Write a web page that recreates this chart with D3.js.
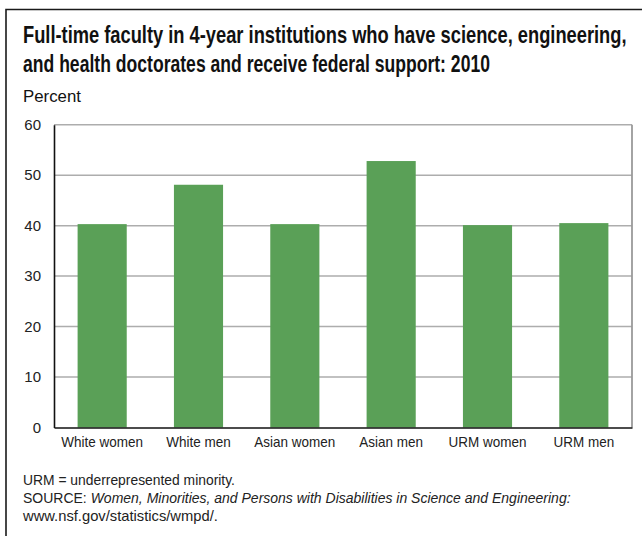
<!DOCTYPE html>
<html>
<head>
<meta charset="utf-8">
<script src="https://cdn.jsdelivr.net/npm/d3@7"></script>
<style>
  body { margin: 0; background: #fff; }
  svg { display: block; font-family: "Liberation Sans", Arial, sans-serif; }
</style>
</head>
<body>
<div id="chart"></div>
<script>
// Data
const categories = ["White women", "White men", "Asian women", "Asian men", "URM women", "URM men"];
const values = [40.3, 48.1, 40.3, 52.8, 40.1, 40.5];
const yTicks = [0, 10, 20, 30, 40, 50, 60];

const titleLines = [
    "Full-time faculty in 4-year institutions who have science, engineering,",
    "and health doctorates and receive federal support: 2010"
];

const width = 642;
const height = 536;
const plot = { left: 54, right: 632, top: 124.7, bottom: 427.5 };

const svg = d3.select("#chart")
    .append("svg")
    .attr("width", width)
    .attr("height", height);

// squeeze a left-anchored text horizontally so it spans the given width
function fitText(sel, x, y, target) {
    const len = sel.node().getComputedTextLength();
    const s = Math.min(1, target / len);
    sel.attr("x", 0).attr("y", 0)
        .attr("transform", `translate(${x},${y}) scale(${s},1)`);
}

// Outer frame (open at right and bottom, as in the picture)
svg.append("path")
    .attr("d", `M6,${height + 5}V9.5H${width + 5}`)
    .attr("fill", "none")
    .attr("stroke", "#1a1a1a")
    .attr("stroke-width", 1.6);

// Title
const titleWidths = [604, 467];
titleLines.forEach((line, i) => {
    const t = svg.append("text")
        .attr("font-size", 23)
        .attr("font-weight", "bold")
        .attr("fill", "#111")
        .text(line);
    fitText(t, 23, 43 + i * 29, titleWidths[i]);
});

const pct = svg.append("text")
    .attr("font-size", 17)
    .attr("fill", "#111")
    .text("Percent");
fitText(pct, 23, 102, 58);

// Scales
const x = d3.scaleBand()
    .domain(categories)
    .range([plot.left, plot.right])
    .paddingInner(0.49)
    .paddingOuter(0.245);

const y = d3.scaleLinear()
    .domain([0, 60])
    .range([plot.bottom, plot.top]);

// Gridlines
svg.append("g")
    .selectAll("line")
    .data(yTicks.filter(t => t > 0))
    .enter()
    .append("line")
    .attr("x1", plot.left)
    .attr("x2", plot.right)
    .attr("y1", d => y(d))
    .attr("y2", d => y(d))
    .attr("stroke", "#adadad")
    .attr("stroke-width", 1.5);

// Right border of plot
svg.append("line")
    .attr("x1", plot.right)
    .attr("x2", plot.right)
    .attr("y1", y(60))
    .attr("y2", y(0))
    .attr("stroke", "#9a9a9a")
    .attr("stroke-width", 1.8);

// Bars
svg.append("g")
    .selectAll("rect")
    .data(values)
    .enter()
    .append("rect")
    .attr("x", (d, i) => x(categories[i]))
    .attr("y", d => y(d))
    .attr("width", x.bandwidth())
    .attr("height", d => y(0) - y(d))
    .attr("fill", "#5aa057");

// Y axis
const yAxis = svg.append("g")
    .attr("transform", `translate(${plot.left},0)`)
    .call(d3.axisLeft(y).tickValues(yTicks).tickSize(0).tickPadding(13));
yAxis.select(".domain").attr("stroke", "#111").attr("stroke-width", 1.6);
yAxis.selectAll("text")
    .attr("font-family", "'Liberation Sans', Arial, sans-serif")
    .attr("font-size", 15)
    .attr("fill", "#222");

// X axis
const xAxis = svg.append("g")
    .attr("transform", `translate(0,${plot.bottom})`)
    .call(d3.axisBottom(x).tickSize(0).tickPadding(9));
xAxis.select(".domain").attr("stroke", "#111").attr("stroke-width", 1.6);
xAxis.selectAll("text")
    .attr("font-family", "'Liberation Sans', Arial, sans-serif")
    .attr("font-size", 15)
    .attr("transform", "scale(0.9,1)")
    .attr("fill", "#222");

// Notes
const notes = svg.append("g").attr("font-size", 15).attr("fill", "#222");
const n1 = notes.append("text").text("URM = underrepresented minority.");
fitText(n1, 23, 485, 212);
const src = notes.append("text");
src.append("tspan").text("SOURCE: ");
src.append("tspan").attr("font-style", "italic")
    .text("Women, Minorities, and Persons with Disabilities in Science and Engineering:");
fitText(src, 23, 503, 548);
const n3 = notes.append("text").text("www.nsf.gov/statistics/wmpd/.");
fitText(n3, 23, 521, 195);
</script>
</body>
</html>
